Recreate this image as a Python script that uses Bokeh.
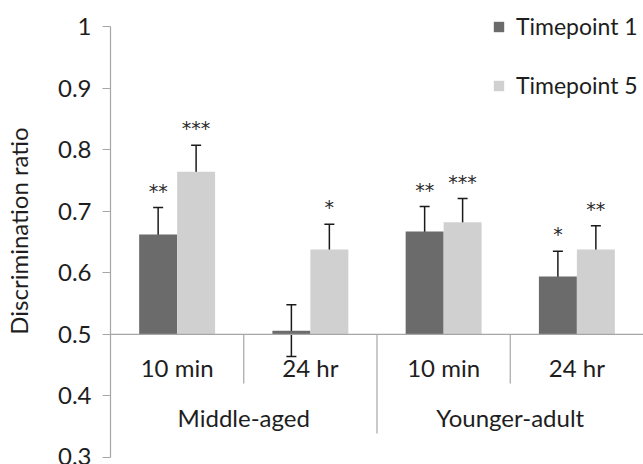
from bokeh.plotting import figure
from bokeh.models import (FactorRange, Range1d, ColumnDataSource, Whisker, TeeHead, Span,
                          Legend, LegendItem, FixedTicker, CustomJSTickFormatter)
from bokeh.transform import dodge
from bokeh.core.properties import value
from bokeh.embed import file_html
from bokeh.resources import INLINE

# ---- data ----
groups = ["Middle-aged", "Middle-aged", "Younger-adult", "Younger-adult"]
delays = ["10 min", "24 hr", "10 min", "24 hr"]
tp1_mean = [0.662, 0.506, 0.667, 0.594]
tp1_err = [0.044, 0.042, 0.0405, 0.041]
tp5_mean = [0.764, 0.638, 0.682, 0.638]
tp5_err = [0.043, 0.041, 0.0385, 0.0385]
tp1_sig = ["**", "", "**", "*"]
tp5_sig = ["***", "*", "***", "**"]
series_names = ["Timepoint 1", "Timepoint 5"]
y_ticks = [0.3, 0.4, 0.5, 0.6, 0.7, 0.8, 0.9, 1.0]
baseline = 0.5

FONT = "Lato"
TXT = "#1e1e1e"
AX = "#a6a6a6"
C1 = "#6b6b6b"
C5 = "#d0d0d0"

factors = list(zip(groups, delays))
src = ColumnDataSource(dict(
    x=factors,
    tp1=tp1_mean, tp5=tp5_mean,
    tp1_lo=[m - e for m, e in zip(tp1_mean, tp1_err)],
    tp1_hi=[m + e for m, e in zip(tp1_mean, tp1_err)],
    tp5_lo=[m - e for m, e in zip(tp5_mean, tp5_err)],
    tp5_hi=[m + e for m, e in zip(tp5_mean, tp5_err)],
    tp1_sig=tp1_sig, tp5_sig=tp5_sig,
    delay=delays,
))

x_range = FactorRange(*factors, group_padding=0, factor_padding=0, range_padding=0)
# a little head-room above 1.0 so the legend (inside the frame) is not clipped
p = figure(x_range=x_range, y_range=Range1d(0.3, 1.0357), width=643, height=464,
           output_backend="svg", toolbar_location=None,
           min_border_left=109, min_border_right=0, min_border_top=4, min_border_bottom=7)
p.outline_line_color = None
p.xgrid.visible = False
p.ygrid.visible = False
p.xaxis.visible = False

# y axis
yax = p.yaxis[0]
yax.bounds = (0.3, 1.0)
yax.ticker = FixedTicker(ticks=y_ticks)
yax.formatter = CustomJSTickFormatter(code="return Math.abs(tick-1)<1e-9 ? '1' : tick.toFixed(1);")
yax.axis_line_color = AX
yax.axis_line_width = 1.2
yax.major_tick_line_color = AX
yax.major_tick_line_width = 1.2
yax.major_tick_out = 8
yax.major_tick_in = 0
yax.minor_tick_line_color = None
yax.major_label_text_font = FONT
yax.major_label_text_font_size = "24px"
yax.major_label_text_color = TXT
yax.major_label_standoff = 11
yax.axis_label = "Discrimination ratio"
yax.axis_label_text_font = FONT
yax.axis_label_text_font_size = "24px"
yax.axis_label_text_font_style = "normal"
yax.axis_label_text_color = TXT
yax.axis_label_standoff = 22

W = 0.285
OFF = 0.1425
r1 = p.vbar(x=dodge("x", -OFF, range=x_range), top="tp1", bottom=baseline, width=W,
            source=src, fill_color=C1, line_color=None)
r5 = p.vbar(x=dodge("x", OFF, range=x_range), top="tp5", bottom=baseline, width=W,
            source=src, fill_color=C5, line_color=None)

# category axis drawn at the baseline
p.add_layout(Span(location=baseline, dimension="width", line_color=AX, line_width=1.2))
sep_src = ColumnDataSource(dict(x=[("Middle-aged", "24 hr"), ("Younger-adult", "10 min"), ("Younger-adult", "24 hr")],
                                y1=[0.42, 0.339, 0.42]))
p.segment(x0=dodge("x", -0.5, range=x_range), x1=dodge("x", -0.5, range=x_range),
          y0=baseline, y1="y1", source=sep_src, line_color=AX, line_width=1.2)

for off, lo, hi in [(-OFF, "tp1_lo", "tp1_hi"), (OFF, "tp5_lo", "tp5_hi")]:
    w = Whisker(base=dodge("x", off, range=x_range), lower=lo, upper=hi, source=src,
                line_color="#1a1a1a", line_width=1.5,
                upper_head=TeeHead(size=10, line_color="#1a1a1a", line_width=1.5),
                lower_head=TeeHead(size=10, line_color="#1a1a1a", line_width=1.5))
    p.add_layout(w)

for off, hi, sig in [(-OFF, "tp1_hi", "tp1_sig"), (OFF, "tp5_hi", "tp5_sig")]:
    p.text(x=dodge("x", off, range=x_range), y=hi, text=sig, source=src,
           text_font=value("DejaVu Sans"), text_font_size="19px", text_color="#2a2a2a",
           text_align="center", text_baseline="middle", y_offset=-17)

p.text(x="x", y=0.446, text="delay", source=src, text_font=value(FONT),
       text_font_size="24px", text_color=TXT, text_align="center", text_baseline="middle")
grp_src = ColumnDataSource(dict(g=["Middle-aged", "Younger-adult"]))
p.text(x="g", y=0.365, text="g", source=grp_src, text_font=value(FONT),
       text_font_size="24px", text_color=TXT, text_align="center", text_baseline="middle")

legend = Legend(items=[LegendItem(label=series_names[0], renderers=[r1]),
                       LegendItem(label=series_names[1], renderers=[r5])],
                location=(382, 358), orientation="vertical",
                glyph_width=13, glyph_height=13, label_standoff=11, spacing=31,
                padding=0, margin=0, border_line_color=None, background_fill_alpha=0,
                label_text_font=FONT, label_text_font_size="23px", label_text_color=TXT)
p.add_layout(legend)

open("out.html", "w").write(file_html(p, INLINE))
